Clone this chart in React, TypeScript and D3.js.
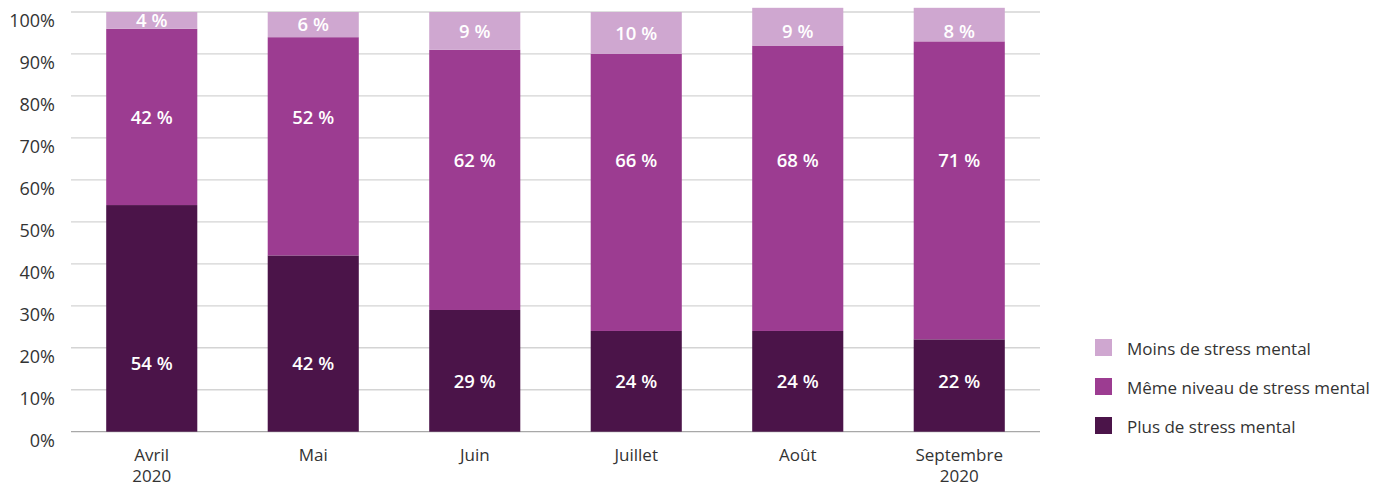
import * as d3 from 'd3'

const months = ['Avril\n2020', 'Mai', 'Juin', 'Juillet', 'Août', 'Septembre\n2020']
const plus = [54, 42, 29, 24, 24, 22]
const meme = [42, 52, 62, 66, 68, 71]
const moins = [4, 6, 9, 10, 9, 8]
const yTicks = [0, 10, 20, 30, 40, 50, 60, 70, 80, 90, 100]

// where the value labels sit, in percent units (hand-placed in the original)
const plusLabelAt = [16.4, 16.4, 12.1, 12.1, 12.1, 12.1]
const memeLabelAt = [75, 75, 64.7, 64.7, 64.7, 64.7]
const moinsLabelAt = [98, 97, 95.4, 95, 95.3, 95.3]

const series = [
  { key: 'plus', name: 'Plus de stress mental', values: plus, labelAt: plusLabelAt, color: '#4b1449' },
  { key: 'meme', name: 'Même niveau de stress mental', values: meme, labelAt: memeLabelAt, color: '#9c3c91' },
  { key: 'moins', name: 'Moins de stress mental', values: moins, labelAt: moinsLabelAt, color: '#cfa7d0' },
]

const W = 1378
const H = 485
const FONT = "'Open Sans', 'DejaVu Sans', sans-serif"

export default function App() {
  const x = d3.scaleBand<string>().domain(months).range([71, 1040]).paddingInner(0.436).paddingOuter(0.218)
  const y = d3.scaleLinear().domain([0, 100]).range([431.7, 12])

  const rows = months.map((m, i) => ({ month: m, plus: plus[i], meme: meme[i], moins: moins[i] }))
  const stacked = d3.stack<any>().keys(series.map(s => s.key))(rows)

  const legendOrder = [...series].reverse()

  return (
    <div style={{ position: 'absolute', left: 0, top: 0 }}>
      <svg width={W} height={H} style={{ display: 'block', fontFamily: FONT }}>
        {yTicks.map(t => (
          <g key={t}>
            <line x1={71} x2={1040} y1={y(t)} y2={y(t)} stroke={t === 0 ? '#a8a8a8' : '#d4d4d4'} strokeWidth={1.3} />
            <text x={55} y={y(t) + 9} dy="0.36em" textAnchor="end" fontSize={18} fill="#333">{t}%</text>
          </g>
        ))}

        {stacked.map((layer, si) => (
          <g key={layer.key}>
            {layer.map((d, i) => (
              <rect key={i} x={x(months[i])} width={x.bandwidth()} y={y(d[1])} height={y(d[0]) - y(d[1])} fill={series[si].color} />
            ))}
          </g>
        ))}

        {series.map(s => (
          <g key={s.key}>
            {s.values.map((v, i) => (
              <text key={i} x={(x(months[i]) || 0) + x.bandwidth() / 2} y={y(s.labelAt[i])} dy="0.36em"
                textAnchor="middle" fontSize={18.5} fontWeight={600} fill="#fff">{v} %</text>
            ))}
          </g>
        ))}

        {months.map(m => (
          <text key={m} x={(x(m) || 0) + x.bandwidth() / 2} y={461} textAnchor="middle" fontSize={17} fill="#333">
            {m.split('\n').map((line, j) => (
              <tspan key={j} x={(x(m) || 0) + x.bandwidth() / 2} dy={j === 0 ? 0 : 20.5}>{line}</tspan>
            ))}
          </text>
        ))}

        {legendOrder.map((s, i) => (
          <g key={s.key} transform={`translate(1095,${339 + i * 39})`}>
            <rect width={17} height={17} fill={s.color} />
            <text x={32} y={10} dy="0.36em" fontSize={17} fill="#333">{s.name}</text>
          </g>
        ))}
      </svg>
    </div>
  )
}
